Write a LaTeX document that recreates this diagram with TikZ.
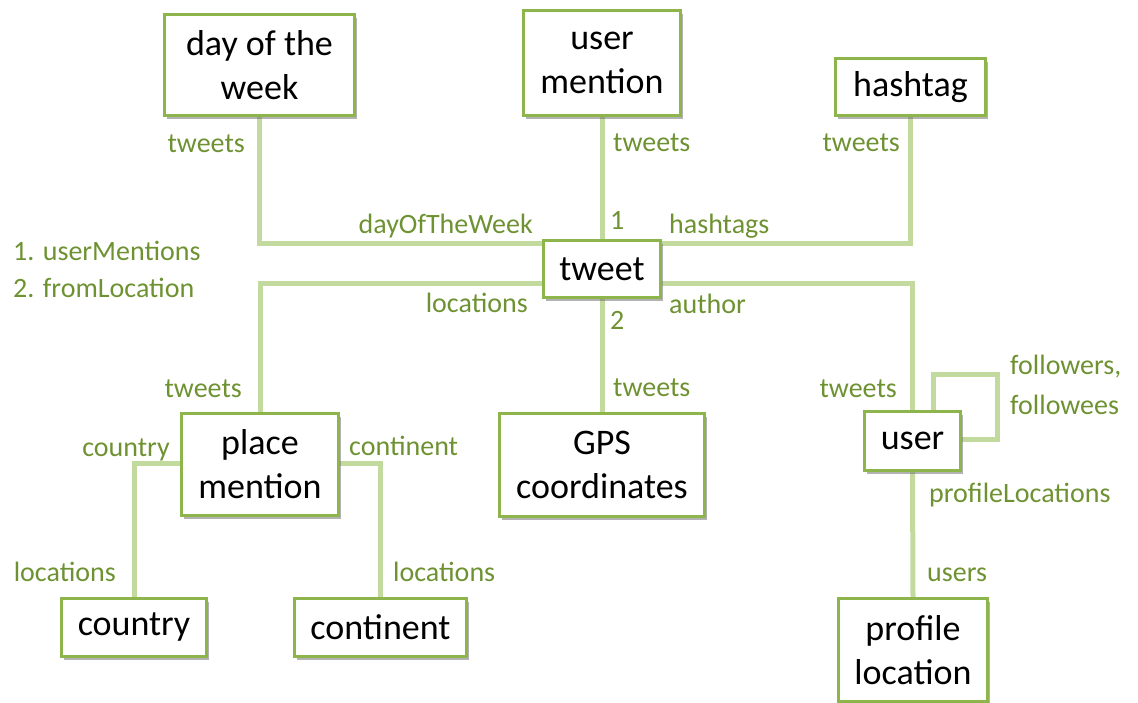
\documentclass[tikz,border=0pt]{standalone}
\usepackage{fontspec}
\setmainfont{Carlito}
\usetikzlibrary{backgrounds,shadows}
\definecolor{boxgreen}{HTML}{8DB54C}
\definecolor{linegreen}{HTML}{C2DA9E}
\definecolor{labgreen}{HTML}{6E9232}
\tikzset{
  entity/.style={draw=boxgreen, line width=3.5pt, fill=white, align=center,
    inner sep=0pt, font=\fontsize{36}{44}\selectfont, text=black,
    drop shadow={opacity=0.5, fill=black!60, shadow xshift=2.5pt, shadow yshift=-3pt}},
  conn/.style={draw=linegreen, line width=5pt},
  lab/.style={text=labgreen, inner sep=0pt, font=\fontsize{28}{36}\selectfont}
}
\begin{document}
\begin{tikzpicture}[x=1pt,y=-1pt]
\useasboundingbox (0,0) rectangle (1138,702);
% entities
\node[entity, minimum width=190pt, minimum height=101pt] (dow) at (259.5,65) {day of the\\week};
\node[entity, minimum width=157pt, minimum height=105pt] (um) at (602,63) {\raisebox{-3pt}{user}\\\raisebox{-3pt}{mention}};
\node[entity, minimum width=150pt, minimum height=57pt] (ht) at (910.5,87) {hashtag};
\node[entity, minimum width=117pt, minimum height=57pt] (tweet) at (602,269) {tweet};
\node[entity, minimum width=157pt, minimum height=102pt] (pm) at (260,464.5) {place\\mention};
\node[entity, minimum width=205pt, minimum height=103pt] (gps) at (602,465) {GPS\\coordinates};
\node[entity, minimum width=96pt, minimum height=59pt] (user) at (912.5,441) {user};
\node[entity, minimum width=145pt, minimum height=58pt] (country) at (134,627.5) {\raisebox{-3pt}{country}};
\node[entity, minimum width=172pt, minimum height=58pt] (cont) at (380.5,627.5) {continent};
\node[entity, minimum width=149pt, minimum height=103pt] (prof) at (913,650) {profile\\location};
% helper rows
\coordinate (rowA) at (0,243);
\coordinate (rowB) at (0,283);
\coordinate (rowC) at (0,463);
\coordinate (loopA) at (933,374);
\coordinate (loopB) at (997,439);
% connectors
\begin{scope}[on background layer]
\draw[conn] (dow.south) |- (tweet.west |- rowA);
\draw[conn] (tweet.west |- rowB) -| (pm.north);
\draw[conn] (tweet.east |- rowA) -| (ht.south);
\draw[conn] (tweet.east |- rowB) -| (user.north);
\draw[conn] (um.south) -- (tweet.north);
\draw[conn] (tweet.south) -- (gps.north);
\draw[conn] (user.south) -- (prof.north);
\draw[conn] (user.north -| loopA) -- (loopA) -| (loopB) -- (user.east |- loopB);
\draw[conn] (pm.west |- rowC) -| (country.north);
\draw[conn] (pm.east |- rowC) -| (cont.north);
\end{scope}
% labels
\node[lab, anchor=mid east] (l1) at (245,150) {tweets};
\node[lab, anchor=mid east] (l2) at (533,231) {dayOfTheWeek};
\node[lab, anchor=mid east] (l3) at (528,310) {locations};
\node[lab, anchor=mid west] (l4) at (610,227) {1};
\node[lab, anchor=mid west] (l5) at (669,231) {hashtags};
\node[lab, anchor=mid west] (l6) at (669,311) {author};
\node[lab, anchor=mid west] (l7) at (610,327) {2};
\node[lab, anchor=mid west] (l8) at (613,149) {tweets};
\node[lab, anchor=mid east] (l9) at (900,149) {tweets};
\node[lab, anchor=mid west] (l10) at (613,394) {tweets};
\node[lab, anchor=mid east] (l11) at (242,395) {tweets};
\node[lab, anchor=mid east] (l12) at (897,395) {tweets};
\node[lab, anchor=west, align=left, font=\fontsize{28}{40}\selectfont] (l13) at (1010,385) {followers,\\followees};
\node[lab, anchor=mid east] (l14) at (170,454) {country};
\node[lab, anchor=mid west] (l15) at (349,453) {continent};
\node[lab, anchor=mid east] (l16) at (116,579) {locations};
\node[lab, anchor=mid west] (l17) at (393,579) {locations};
\node[lab, anchor=mid west] (l18) at (929,500) {profileLocations};
\node[lab, anchor=mid west] (l19) at (927,579) {users};
\node[lab, anchor=west, align=left, font=\fontsize{28}{37}\selectfont] (legend) at (13,269) {1. userMentions\\2. fromLocation};
\end{tikzpicture}
\end{document}
